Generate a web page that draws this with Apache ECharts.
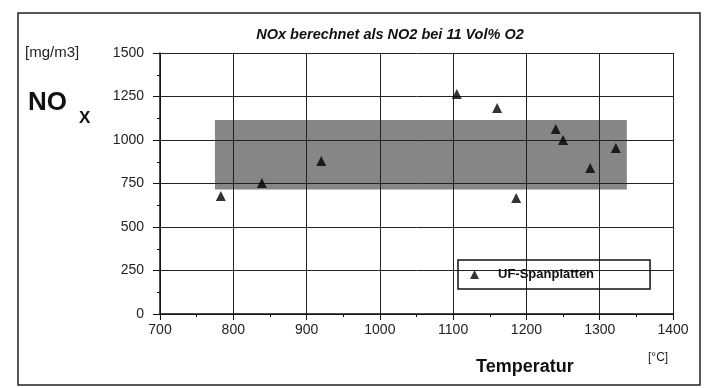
<!DOCTYPE html>
<html>
<head>
<meta charset="utf-8">
<script src="https://cdn.jsdelivr.net/npm/echarts@6/dist/echarts.min.js"></script>
<style>
  html, body { margin: 0; padding: 0; background: #fff; }
  #chart { width: 711px; height: 388px; }
</style>
</head>
<body>
<div id="chart"></div>
<script>
const temperatur = [783, 839, 920, 1105, 1160, 1186, 1240, 1250, 1287, 1322];
const noxWerte = [678, 753, 879, 1264, 1184, 667, 1063, 1000, 839, 954];
// grauer bereich
const bandX = [775, 1337];
const bandY = [715, 1115];
const xTicks = [700, 800, 900, 1000, 1100, 1200, 1300, 1400];
const yTicks = [0, 250, 500, 750, 1000, 1250, 1500];

const font = "'Liberation Sans', Arial, sans-serif";

let myChart = echarts.init(document.getElementById("chart"));
myChart.setOption({
  backgroundColor: "#fff",
  animation: false,
  grid: { left: 160, right: 38, top: 53, bottom: 74 },
  title: {
    text: "NOx berechnet als NO2 bei 11 Vol% O2",
    left: 385,
    top: 22,
    textAlign: "center",
    textStyle: { fontFamily: font, fontSize: 14.5, fontStyle: "italic", fontWeight: "bold", color: "#111" }
  },
  legend: {
    left: 458,
    top: 260,
    orient: "horizontal",
    borderColor: "#111",
    borderWidth: 1.5,
    padding: [8, 56, 8, 12],
    icon: "triangle",
    itemWidth: 9,
    itemHeight: 9,
    textStyle: { fontFamily: font, fontSize: 13, fontWeight: "bold", color: "#111", padding: [0, 0, 0, 14] },
    data: ["UF-Spanplatten"]
  },
  xAxis: {
    type: "value",
    min: xTicks[0],
    max: xTicks[xTicks.length - 1],
    interval: 100,
    z: 3,
    axisLine: { show: true, lineStyle: { color: "#111", width: 1.5 } },
    axisTick: { show: true, length: 6, lineStyle: { color: "#111" } },
    minorTick: { show: true, splitNumber: 2, length: 3, lineStyle: { color: "#111" } },
    splitLine: { show: true, lineStyle: { color: "#222", width: 1 } },
    axisLabel: { margin: 9, fontFamily: font, fontSize: 14, color: "#222", formatter: v => String(v) }
  },
  yAxis: {
    type: "value",
    min: yTicks[0],
    max: yTicks[yTicks.length - 1],
    interval: 250,
    z: 3,
    axisLine: { show: true, lineStyle: { color: "#111", width: 1.5 } },
    axisTick: { show: true, length: 7, lineStyle: { color: "#111" } },
    minorTick: { show: true, splitNumber: 2, length: 3, lineStyle: { color: "#111" } },
    splitLine: { show: true, lineStyle: { color: "#222", width: 1 } },
    axisLabel: { margin: 16, fontFamily: font, fontSize: 14, color: "#222", formatter: v => String(v) }
  },
  series: [
    {
      name: "band",
      type: "scatter",
      data: [],
      z: 1,
      silent: true,
      markArea: {
        silent: true,
        itemStyle: { color: "#868686" },
        data: [[{ coord: [bandX[0], bandY[1]] }, { coord: [bandX[1], bandY[0]] }]]
      }
    },
    {
      name: "UF-Spanplatten",
      type: "scatter",
      z: 5,
      symbol: "triangle",
      symbolSize: 10,
      itemStyle: { color: "#000" },
      data: temperatur.map((t, i) => [t, noxWerte[i]])
    }
  ],
  graphic: [
    {
      type: "rect",
      shape: { x: 18, y: 13, width: 682, height: 372 },
      style: { fill: null, stroke: "#222", lineWidth: 1.5 },
      z: 0
    },
    {
      type: "text",
      left: 25,
      top: 45,
      style: { text: "[mg/m3]", fontFamily: font, fontSize: 15, fill: "#222" }
    },
    {
      type: "text",
      left: 28,
      top: 90,
      style: { text: "NO", fontFamily: font, fontSize: 26, fontWeight: "bold", fill: "#111" }
    },
    {
      type: "text",
      left: 79,
      top: 110,
      style: { text: "X", fontFamily: font, fontSize: 17, fontWeight: "bold", fill: "#111" }
    },
    {
      type: "text",
      left: 476,
      top: 358,
      style: { text: "Temperatur", fontFamily: font, fontSize: 18, fontWeight: "bold", fill: "#111" }
    },
    {
      type: "text",
      left: 648,
      top: 352,
      style: { text: "[°C]", fontFamily: font, fontSize: 12, fill: "#222" }
    }
  ]
});
</script>
</body>
</html>
